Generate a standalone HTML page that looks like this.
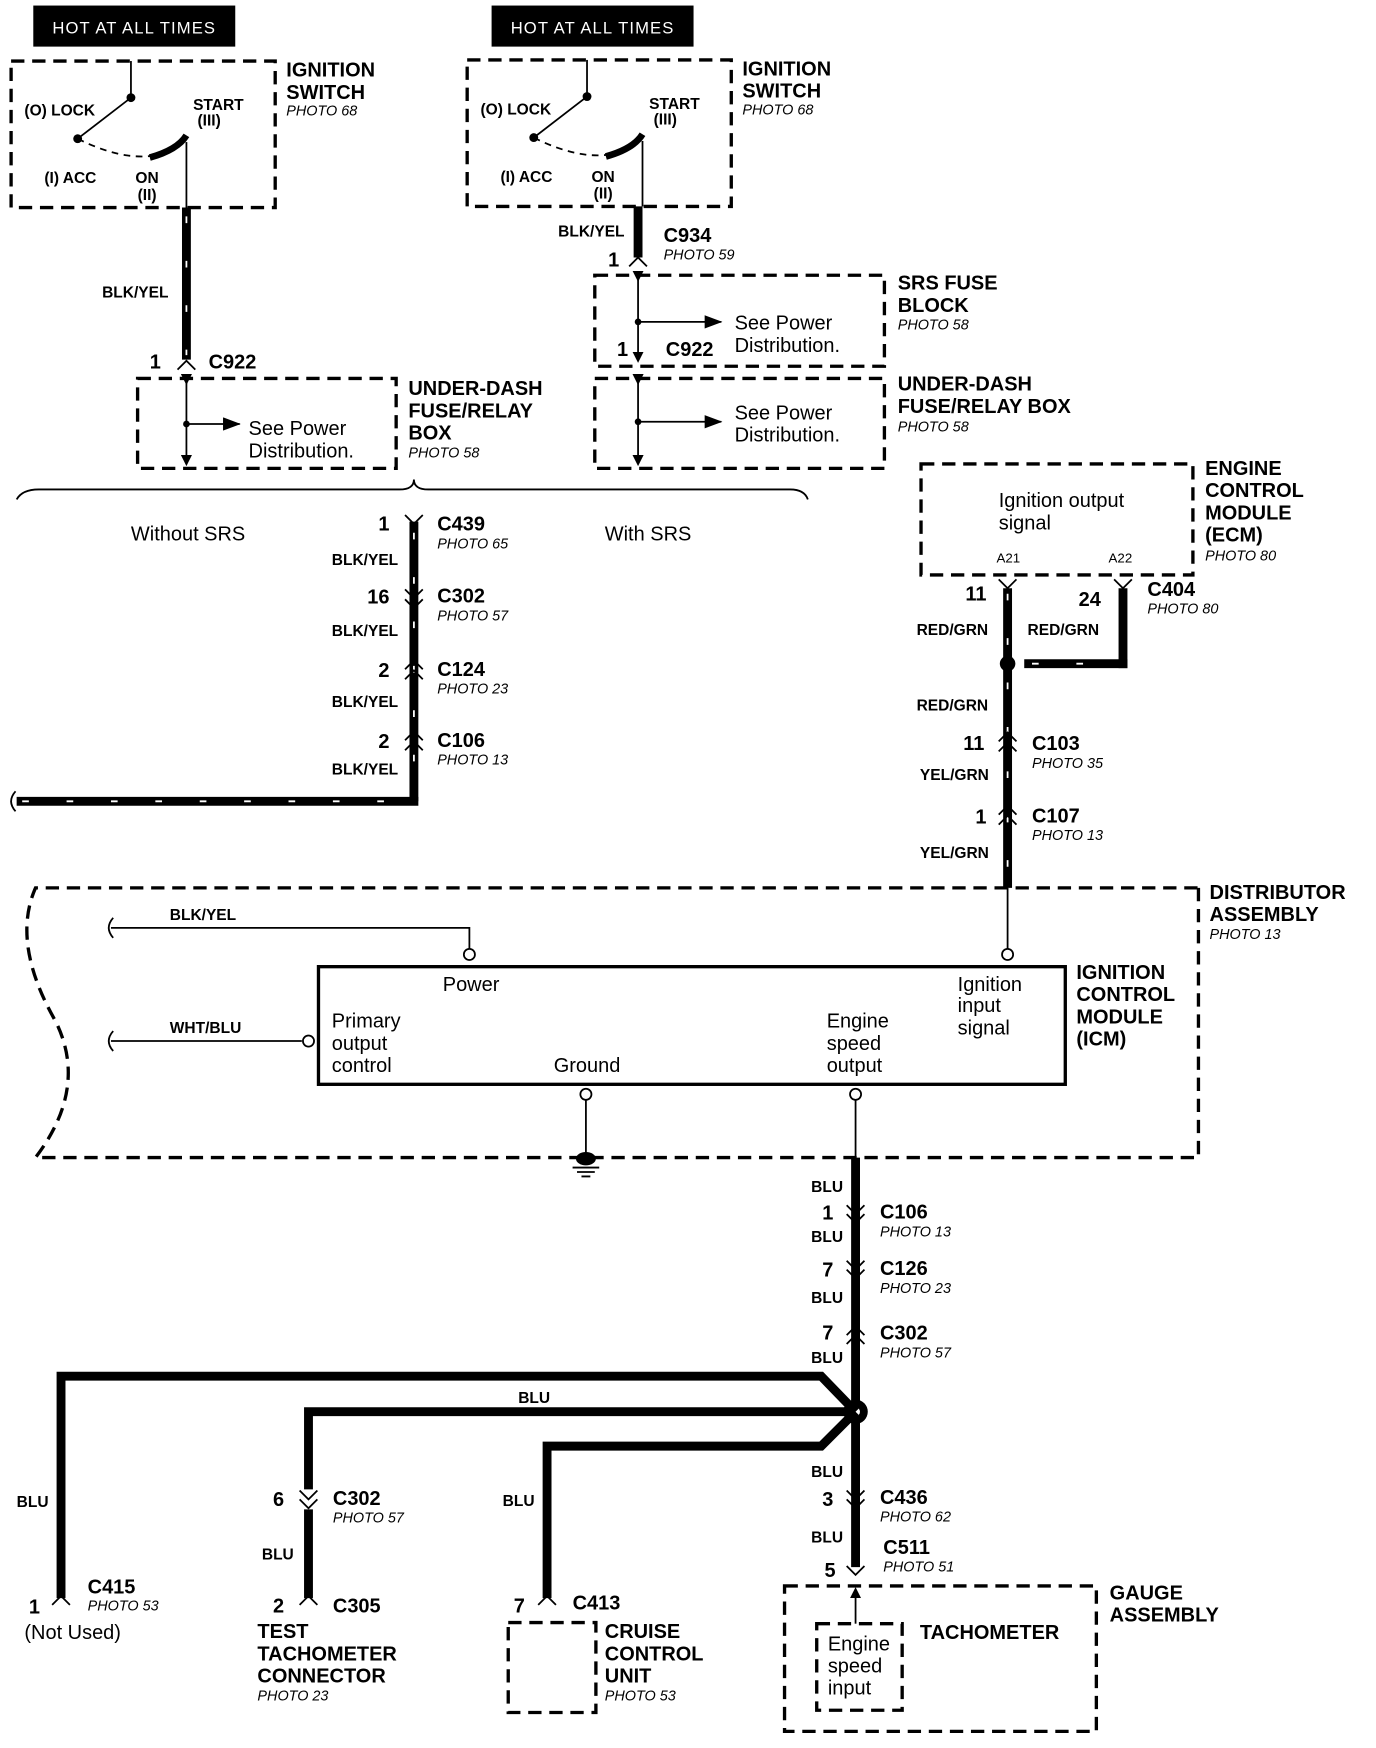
<!DOCTYPE html>
<html><head><meta charset="utf-8"><style>
html,body{margin:0;padding:0;background:#fff}
svg{display:block}
text{font-family:"Liberation Sans",sans-serif;fill:#000}
.b{font-weight:bold;font-size:18px}
.s{font-weight:bold;font-size:14px}
.p{font-style:italic;font-size:13px}
.n{font-size:18px}
.w{stroke:#000;stroke-width:8;fill:none}
.wd{stroke:#fff;stroke-width:1.6;stroke-dasharray:6 34;fill:none}
.d{stroke:#000;stroke-width:3;stroke-dasharray:12 7;fill:none}
.t{stroke:#000;stroke-width:1.6;fill:none}
</style></head><body>
<svg width="1376" height="1748" viewBox="0 0 1240 1575" preserveAspectRatio="none" xmlns="http://www.w3.org/2000/svg">
<defs>
<marker id="ar" markerWidth="10" markerHeight="10" refX="8" refY="5" orient="auto" markerUnits="userSpaceOnUse"><path d="M0,0 L10,5 L0,10z"/></marker>
<marker id="ar2" markerWidth="16" markerHeight="12" refX="15" refY="6" orient="auto" markerUnits="userSpaceOnUse"><path d="M0,0 L16,6 L0,12z"/></marker>
</defs>
<!-- HOT labels -->
<rect x="30" y="5" width="182" height="37" fill="#000"/>
<text x="121" y="30" text-anchor="middle" style="fill:#fff;font-size:15px;letter-spacing:1px">HOT AT ALL TIMES</text>
<rect x="443" y="5" width="182" height="37" fill="#000"/>
<text x="534" y="30" text-anchor="middle" style="fill:#fff;font-size:15px;letter-spacing:1px">HOT AT ALL TIMES</text>

<!-- Ignition switch 1 -->
<g id="sw">
<rect x="10" y="55" width="238" height="132" class="d"/>
<line x1="118" y1="55" x2="118" y2="88" class="t"/>
<circle cx="118" cy="88" r="4"/>
<line x1="118" y1="88" x2="70" y2="125" class="t" stroke-width="2"/>
<circle cx="70" cy="125" r="4"/>
<path d="M70,125 Q110,145 140,140" class="t" stroke-dasharray="6 5"/>
<path d="M135,142 Q160,135 168,122" stroke="#000" stroke-width="6" fill="none"/>
<line x1="168" y1="128" x2="168" y2="187" class="t"/>
<text x="22" y="104" class="s">(O) LOCK</text>
<text x="174" y="99" class="s">START</text><text x="178" y="113" class="s">(III)</text>
<text x="40" y="165" class="s">(I) ACC</text>
<text x="122" y="165" class="s">ON</text><text x="124" y="180" class="s">(II)</text>
</g>
<text x="258" y="69" class="b">IGNITION</text><text x="258" y="89" class="b">SWITCH</text><text x="258" y="104" class="p">PHOTO 68</text>
<use href="#sw" transform="translate(411,-1)"/>
<text x="669" y="68" class="b">IGNITION</text><text x="669" y="88" class="b">SWITCH</text><text x="669" y="103" class="p">PHOTO 68</text>

<!-- left wire -->
<line x1="168" y1="187" x2="168" y2="324" class="w"/><line x1="168" y1="195" x2="168" y2="320" class="wd"/>
<text x="92" y="268" class="s">BLK/YEL</text>
<path d="M160,333 L168,325 L176,333" class="t" stroke-width="2.5"/>
<text x="135" y="332" class="b">1</text><text x="188" y="332" class="b">C922</text>
<rect x="124" y="341" width="233" height="81" class="d"/>
<line x1="168" y1="345" x2="168" y2="418" class="t" marker-start="url(#ar)" marker-end="url(#ar)"/>
<circle cx="168" cy="382" r="3"/>
<line x1="168" y1="382" x2="216" y2="382" class="t" stroke-width="2.5" marker-end="url(#ar2)"/>
<text x="224" y="392" class="n">See Power</text><text x="224" y="412" class="n">Distribution.</text>
<text x="368" y="356" class="b">UNDER-DASH</text><text x="368" y="376" class="b">FUSE/RELAY</text><text x="368" y="396" class="b">BOX</text><text x="368" y="412" class="p">PHOTO 58</text>

<!-- right wire -->
<line x1="575" y1="186" x2="575" y2="232" class="w"/>
<text x="503" y="213" class="s">BLK/YEL</text>
<path d="M567,240 L575,232 L583,240" class="t" stroke-width="2.5"/>
<text x="548" y="240" class="b">1</text>
<text x="598" y="218" class="b">C934</text><text x="598" y="234" class="p">PHOTO 59</text>
<rect x="536" y="248" width="261" height="82" class="d"/>
<line x1="575" y1="252" x2="575" y2="325" class="t" marker-start="url(#ar)" marker-end="url(#ar)"/>
<circle cx="575" cy="290" r="3"/>
<line x1="575" y1="290" x2="650" y2="290" class="t" stroke-width="2.5" marker-end="url(#ar2)"/>
<text x="662" y="297" class="n">See Power</text><text x="662" y="317" class="n">Distribution.</text>
<text x="556" y="321" class="b">1</text><text x="600" y="321" class="b">C922</text>
<text x="809" y="261" class="b">SRS FUSE</text><text x="809" y="281" class="b">BLOCK</text><text x="809" y="297" class="p">PHOTO 58</text>
<rect x="536" y="341" width="261" height="81" class="d"/>
<line x1="575" y1="345" x2="575" y2="418" class="t" marker-start="url(#ar)" marker-end="url(#ar)"/>
<circle cx="575" cy="380" r="3"/>
<line x1="575" y1="380" x2="650" y2="380" class="t" stroke-width="2.5" marker-end="url(#ar2)"/>
<text x="662" y="378" class="n">See Power</text><text x="662" y="398" class="n">Distribution.</text>
<text x="809" y="352" class="b">UNDER-DASH</text><text x="809" y="372" class="b">FUSE/RELAY BOX</text><text x="809" y="389" class="p">PHOTO 58</text>

<!-- brace -->
<path d="M15,450 Q20,441 35,441 L360,441 Q373,441 373,432 Q373,441 386,441 L712,441 Q725,441 728,450" class="t" stroke-width="3"/>
<text x="118" y="487" class="n">Without SRS</text><text x="545" y="487" class="n">With SRS</text>

<!-- center vertical -->
<line x1="373" y1="470" x2="373" y2="722" class="w"/><line x1="373" y1="480" x2="373" y2="715" class="wd"/>
<line x1="15" y1="722" x2="377" y2="722" class="w"/><line x1="20" y1="722" x2="370" y2="722" class="wd" stroke-dasharray="14 16"/>
<path d="M14,713 Q6,722 14,731" class="t" stroke-width="2"/>
<g class="t" stroke-width="3">
<path d="M365,464 L373,472 L381,464"/>
<path d="M365,531 L373,539 L381,531 M365,540 L373,548 L381,540" />
<path d="M365,603 L373,595 L381,603 M365,612 L373,604 L381,612"/>
<path d="M365,667 L373,659 L381,667 M365,676 L373,668 L381,676"/>
</g>
<text x="341" y="478" class="b">1</text><text x="394" y="478" class="b">C439</text><text x="394" y="494" class="p">PHOTO 65</text>
<text x="299" y="509" class="s">BLK/YEL</text>
<text x="331" y="544" class="b">16</text><text x="394" y="543" class="b">C302</text><text x="394" y="559" class="p">PHOTO 57</text>
<text x="299" y="573" class="s">BLK/YEL</text>
<text x="341" y="610" class="b">2</text><text x="394" y="609" class="b">C124</text><text x="394" y="625" class="p">PHOTO 23</text>
<text x="299" y="637" class="s">BLK/YEL</text>
<text x="341" y="674" class="b">2</text><text x="394" y="673" class="b">C106</text><text x="394" y="689" class="p">PHOTO 13</text>
<text x="299" y="698" class="s">BLK/YEL</text>

<!-- ECM -->
<rect x="830" y="418" width="245" height="100" class="d"/>
<text x="900" y="457" class="n">Ignition output</text><text x="900" y="477" class="n">signal</text>
<text x="898" y="507" style="font-size:12px">A21</text><text x="999" y="507" style="font-size:12px">A22</text>
<text x="1086" y="428" class="b">ENGINE</text><text x="1086" y="448" class="b">CONTROL</text><text x="1086" y="468" class="b">MODULE</text><text x="1086" y="488" class="b">(ECM)</text><text x="1086" y="505" class="p">PHOTO 80</text>
<line x1="908" y1="530" x2="908" y2="800" class="w"/><line x1="908" y1="535" x2="908" y2="795" class="wd"/>
<line x1="1012" y1="530" x2="1012" y2="602" class="w"/>
<line x1="923" y1="598" x2="1016" y2="598" class="w"/><line x1="930" y1="598" x2="1005" y2="598" class="wd" stroke-dasharray="14 16"/>
<circle cx="908" cy="598" r="7"/>
<path d="M900,522 L908,530 L916,522 M1004,522 L1012,530 L1020,522" class="t" stroke-width="3"/>
<path d="M900,668 L908,660 L916,668 M900,677 L908,669 L916,677 M900,734 L908,726 L916,734 M900,743 L908,735 L916,743" class="t" stroke-width="3"/>
<text x="870" y="541" class="b">11</text><text x="972" y="546" class="b">24</text>
<text x="1034" y="537" class="b">C404</text><text x="1034" y="553" class="p">PHOTO 80</text>
<text x="826" y="572" class="s">RED/GRN</text><text x="926" y="572" class="s">RED/GRN</text>
<text x="826" y="640" class="s">RED/GRN</text>
<text x="868" y="676" class="b">11</text><text x="930" y="676" class="b">C103</text><text x="930" y="692" class="p">PHOTO 35</text>
<text x="829" y="703" class="s">YEL/GRN</text>
<text x="879" y="742" class="b">1</text><text x="930" y="741" class="b">C107</text><text x="930" y="757" class="p">PHOTO 13</text>
<text x="829" y="773" class="s">YEL/GRN</text>

<!-- Distributor -->
<path d="M1080,800 L1080,1043 L32,1043 Q80,980 50,920 Q10,850 32,800 Z" class="d"/>
<text x="1090" y="810" class="b">DISTRIBUTOR</text><text x="1090" y="830" class="b">ASSEMBLY</text><text x="1090" y="846" class="p">PHOTO 13</text>
<line x1="908" y1="800" x2="908" y2="855" class="t"/><circle cx="908" cy="860" r="5" fill="#fff" class="t"/>
<rect x="287" y="871" width="673" height="106" fill="none" stroke="#000" stroke-width="3"/>
<text x="970" y="882" class="b">IGNITION</text><text x="970" y="902" class="b">CONTROL</text><text x="970" y="922" class="b">MODULE</text><text x="970" y="942" class="b">(ICM)</text>
<path d="M102,827 Q94,836 102,845" class="t" stroke-width="2"/>
<polyline points="100,836 423,836 423,855" class="t"/><circle cx="423" cy="860" r="5" fill="#fff" class="t"/>
<text x="153" y="829" class="s">BLK/YEL</text>
<path d="M102,929 Q94,938 102,947" class="t" stroke-width="2"/>
<line x1="100" y1="938" x2="272" y2="938" class="t"/><circle cx="278" cy="938" r="5" fill="#fff" class="t"/>
<text x="153" y="931" class="s">WHT/BLU</text>
<text x="399" y="893" class="n">Power</text>
<text x="299" y="926" class="n">Primary</text><text x="299" y="946" class="n">output</text><text x="299" y="966" class="n">control</text>
<text x="499" y="966" class="n">Ground</text>
<text x="745" y="926" class="n">Engine</text><text x="745" y="946" class="n">speed</text><text x="745" y="966" class="n">output</text>
<text x="863" y="893" class="n">Ignition</text><text x="863" y="912" class="n">input</text><text x="863" y="932" class="n">signal</text>
<circle cx="528" cy="986" r="5" fill="#fff" class="t"/><line x1="528" y1="991" x2="528" y2="1043" class="t"/>
<ellipse cx="528" cy="1044" rx="9" ry="6"/>
<path d="M516,1052 H540 M520,1056 H536 M524,1060 H532" class="t"/>
<circle cx="771" cy="986" r="5" fill="#fff" class="t"/><line x1="771" y1="991" x2="771" y2="1043" class="t"/>

<!-- BLU trunk -->
<line x1="771" y1="1043" x2="771" y2="1412" class="w"/>
<path d="M763,1086 L771,1094 L779,1086 M763,1094 L771,1102 L779,1094 M763,1136 L771,1144 L779,1136 M763,1144 L771,1152 L779,1144 M763,1203 L771,1195 L779,1203 M763,1211 L771,1203 L779,1211 M763,1343 L771,1351 L779,1343 M763,1351 L771,1359 L779,1351 M763,1411 L771,1419 L779,1411" class="t" stroke-width="3"/>
<text x="731" y="1074" class="s">BLU</text>
<text x="741" y="1099" class="b">1</text><text x="793" y="1098" class="b">C106</text><text x="793" y="1114" class="p">PHOTO 13</text>
<text x="731" y="1119" class="s">BLU</text>
<text x="741" y="1150" class="b">7</text><text x="793" y="1149" class="b">C126</text><text x="793" y="1165" class="p">PHOTO 23</text>
<text x="731" y="1174" class="s">BLU</text>
<text x="741" y="1207" class="b">7</text><text x="793" y="1207" class="b">C302</text><text x="793" y="1223" class="p">PHOTO 57</text>
<text x="731" y="1228" class="s">BLU</text>
<circle cx="771" cy="1272" r="11" fill="#000"/><circle cx="771" cy="1272" r="4" fill="#fff"/>
<polyline points="771,1272 740,1240 55,1240 55,1440" class="w"/>
<polyline points="771,1272 278,1272 278,1342" class="w"/>
<polyline points="771,1272 740,1303 493,1303 493,1440" class="w"/>
<line x1="278" y1="1360" x2="278" y2="1440" class="w"/>
<path d="M270,1343 L278,1351 L286,1343 M270,1351 L278,1359 L286,1351 M270,1446 L278,1438 L286,1446 M47,1446 L55,1438 L63,1446 M485,1446 L493,1438 L501,1446" class="t" stroke-width="3"/>
<text x="467" y="1264" class="s">BLU</text>
<text x="731" y="1331" class="s">BLU</text>
<text x="741" y="1357" class="b">3</text><text x="793" y="1355" class="b">C436</text><text x="793" y="1371" class="p">PHOTO 62</text>
<text x="731" y="1390" class="s">BLU</text>
<text x="796" y="1400" class="b">C511</text><text x="796" y="1416" class="p">PHOTO 51</text>
<text x="743" y="1421" class="b">5</text>
<text x="15" y="1358" class="s">BLU</text>
<text x="26" y="1454" class="b">1</text><text x="79" y="1436" class="b">C415</text><text x="79" y="1451" class="p">PHOTO 53</text>
<text x="22" y="1477" class="n">(Not Used)</text>
<text x="246" y="1357" class="b">6</text><text x="300" y="1356" class="b">C302</text><text x="300" y="1372" class="p">PHOTO 57</text>
<text x="236" y="1405" class="s">BLU</text>
<text x="246" y="1453" class="b">2</text><text x="300" y="1453" class="b">C305</text>
<text x="232" y="1476" class="b">TEST</text><text x="232" y="1496" class="b">TACHOMETER</text><text x="232" y="1516" class="b">CONNECTOR</text><text x="232" y="1532" class="p">PHOTO 23</text>
<text x="453" y="1357" class="s">BLU</text>
<text x="463" y="1453" class="b">7</text><text x="516" y="1450" class="b">C413</text>
<rect x="458" y="1462" width="79" height="81" class="d"/>
<text x="545" y="1476" class="b">CRUISE</text><text x="545" y="1496" class="b">CONTROL</text><text x="545" y="1516" class="b">UNIT</text><text x="545" y="1532" class="p">PHOTO 53</text>
<!-- gauge -->
<rect x="707" y="1429" width="281" height="131" class="d"/>
<line x1="771" y1="1463" x2="771" y2="1432" class="t" marker-end="url(#ar)"/>
<rect x="736" y="1463" width="77" height="78" class="d"/>
<text x="746" y="1487" class="n">Engine</text><text x="746" y="1507" class="n">speed</text><text x="746" y="1527" class="n">input</text>
<text x="829" y="1477" class="b">TACHOMETER</text>
<text x="1000" y="1441" class="b">GAUGE</text><text x="1000" y="1461" class="b">ASSEMBLY</text>
</svg>
</body></html>
